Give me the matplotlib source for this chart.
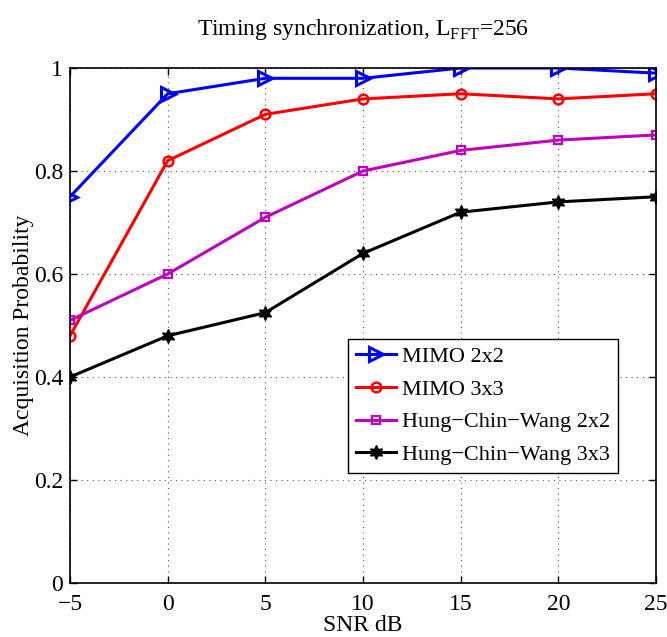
import matplotlib
matplotlib.use("Agg")
import matplotlib.pyplot as plt
import numpy as np

snr = [-5, 0, 5, 10, 15, 20, 25]
mimo22 = [0.75, 0.95, 0.98, 0.98, 1.00, 1.00, 0.99]
mimo33 = [0.48, 0.82, 0.91, 0.94, 0.95, 0.94, 0.95]
hcw22 = [0.51, 0.60, 0.71, 0.80, 0.84, 0.86, 0.87]
hcw33 = [0.40, 0.48, 0.525, 0.64, 0.72, 0.74, 0.75]
labels = ["MIMO 2x2", "MIMO 3x3", "Hung\u2212Chin\u2212Wang 2x2", "Hung\u2212Chin\u2212Wang 3x3"]
xticks = [-5, 0, 5, 10, 15, 20, 25]
yticks = [0, 0.2, 0.4, 0.6, 0.8, 1]

plt.rcParams['font.family'] = ['Liberation Serif', 'DejaVu Serif']
plt.rcParams['mathtext.fontset'] = 'custom'
plt.rcParams['mathtext.rm'] = 'Liberation Serif'
plt.rcParams['axes.unicode_minus'] = True

fig = plt.figure(figsize=(6.67, 6.37), dpi=100)
ax = fig.add_axes([70/667, 1-583/637, (656-70)/667, (583-68)/637])

ax.plot(snr, mimo22, color='#0000ff', lw=2.2, marker='>', ms=10, mfc='none', mew=2.2, label=labels[0])
ax.plot(snr, mimo33, color='#ff0000', lw=2.2, marker='o', ms=7, mfc='none', mew=1.8, label=labels[1])
ax.plot(snr, hcw22, color='#bf00bf', lw=2.2, marker='s', ms=6, mfc='none', mew=1.6, label=labels[2])
ax.plot(snr, hcw33, color='black', lw=2.2, marker=(6, 1, 0), ms=10, mfc='black', mew=1.0, label=labels[3])

ax.set_xlim(-5, 25)
ax.set_ylim(0, 1)
ax.set_xticks(xticks)
ax.set_yticks(yticks)
ax.set_xticklabels([str(t).replace('-', '\u2212') for t in xticks])
ax.set_yticklabels(['0', '0.2', '0.4', '0.6', '0.8', '1'])
ax.grid(True, linestyle=(0, (1, 4)), color='#555555', lw=0.8)
ax.tick_params(direction='in', top=True, right=True, labelsize=17, length=5, width=1)
ax.tick_params(axis='x', pad=8)
ax.tick_params(axis='y', pad=5)
for s in ax.spines.values():
    s.set_linewidth(1.2)

ax.set_xlabel('SNR dB', fontsize=17, labelpad=0)
ax.set_ylabel('Acquisition Probability', fontsize=17, labelpad=0)
ax.set_title(r'Timing synchronization, L$_{\mathrm{FFT}}$=256', fontsize=17, pad=24)

leg = ax.legend(loc='lower left', bbox_to_anchor=((348-70)/586, (583-473)/515), fontsize=16,
                frameon=True, fancybox=False, edgecolor='black', framealpha=1,
                handlelength=1.8, handletextpad=0.3, labelspacing=0.55, borderpad=0.35, borderaxespad=0)
leg.get_frame().set_linewidth(1.0)

fig.savefig('out.png', dpi=100)
